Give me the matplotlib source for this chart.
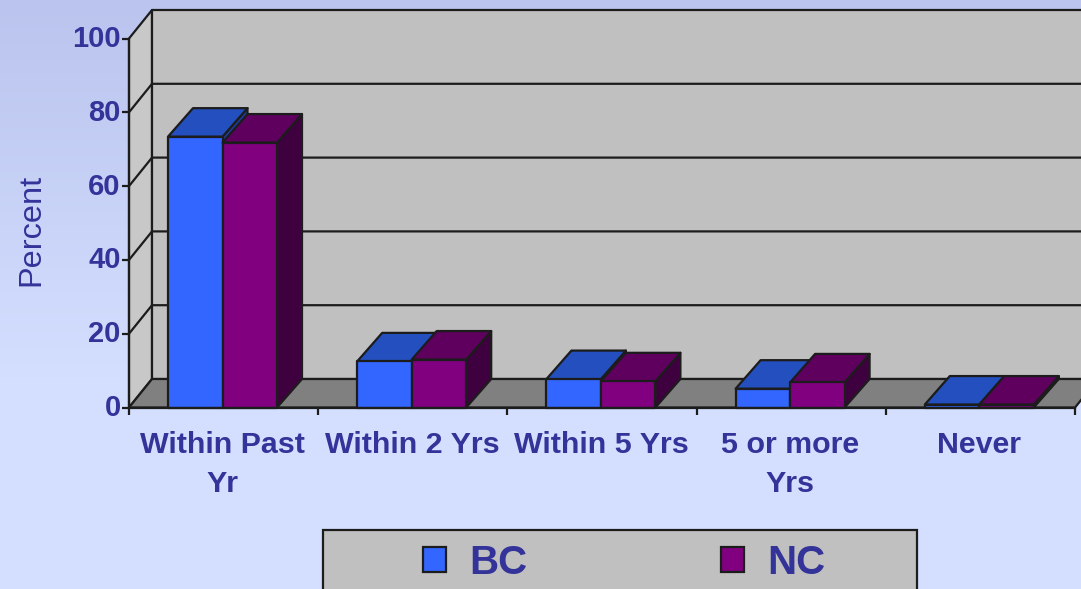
import numpy as np
import matplotlib
matplotlib.use("Agg")
import matplotlib.pyplot as plt
from matplotlib.patches import Polygon, Patch, Rectangle
from matplotlib.transforms import ScaledTranslation

plt.rcParams['font.family'] = ['Liberation Sans', 'DejaVu Sans']

categories = ["Within Past\nYr", "Within 2 Yrs", "Within 5 Yrs", "5 or more\nYrs", "Never"]
bc_values = [73.4, 12.5, 7.7, 5.1, 0.8]
nc_values = [71.8, 13.0, 7.1, 6.8, 0.8]
yticks = [0, 20, 40, 60, 80, 100]

W, H = 1081, 589
TEXT = "#333399"
EDGE = "#1c1c1c"
LW = 1.6

fig = plt.figure(figsize=(W/100, H/100), dpi=100)

# background gradient
bg = fig.add_axes([0, 0, 1, 1], zorder=0)
gy = np.linspace(0, 1, 120)[:, None]
t = np.clip(gy*1.55, 0, 1)
top = np.array([0xba, 0xc4, 0xee])/255
bot = np.array([0xd4, 0xdf, 0xff])/255
img = top + (bot-top)*t[..., None]
bg.imshow(img, extent=[0, 1, 0, 1], origin="upper", aspect="auto")
bg.axis("off")

# front plane of the chart
x0, x1, y0, y1 = 129, 1075, 407.5, 38.5
ax = fig.add_axes([x0/W, 1-y0/H, (x1-x0)/W, (y0-y1)/H], zorder=1)
ax.set_facecolor("none")
ax.set_xlim(0, 5)
ax.set_ylim(0, 100)

pxx = 5/(x1-x0)
pxy = 100/(y0-y1)
wall_dx = 23*pxx
bar_dx = 25*pxx
dy = 28.5*pxy

def poly(pts, fc, z):
    ax.add_patch(Polygon(pts, closed=True, fc=fc, ec=EDGE, lw=LW, clip_on=False, zorder=z, joinstyle="round"))

# walls and floor
poly([(0, 0), (wall_dx, dy), (wall_dx, 100+dy), (0, 100)], "#c8c8c8", 1)
poly([(wall_dx, dy), (5+wall_dx, dy), (5+wall_dx, 100+dy), (wall_dx, 100+dy)], "#c0c0c0", 1)
poly([(0, 0), (wall_dx, dy), (5+wall_dx, dy), (5, 0)], "#808080", 1)
for v in yticks[1:-1]:
    ax.plot([0, wall_dx, 5+wall_dx], [v, v+dy, v+dy], color=EDGE, lw=LW, clip_on=False, zorder=2)

def bar3d(left, width, val, front, topc, side, z):
    poly([(left+width, 0), (left+width+bar_dx, dy), (left+width+bar_dx, val+dy), (left+width, val)], side, z)
    poly([(left, val), (left+bar_dx, val+dy), (left+width+bar_dx, val+dy), (left+width, val)], topc, z)
    poly([(left, 0), (left+width, 0), (left+width, val), (left, val)], front, z)

off = 39*pxx
bw = 54.5*pxx
for i, (b, n) in enumerate(zip(bc_values, nc_values)):
    bar3d(i+off, bw, b, "#3366ff", "#2450bf", "#1f3f9f", 3+i*2)
    bar3d(i+off+bw, bw, n, "#800080", "#5f005f", "#3f003f", 4+i*2)

# axes
for s in ("top", "right"):
    ax.spines[s].set_visible(False)
for s in ("left", "bottom"):
    ax.spines[s].set_linewidth(LW)
    ax.spines[s].set_color(EDGE)
    ax.spines[s].set_zorder(20)
ax.set_yticks(yticks)
ax.set_yticklabels([str(v) for v in yticks], fontsize=21, fontweight="bold", color=TEXT)
ax.tick_params(axis="y", length=5, width=LW, color=EDGE, pad=1)
lift = ScaledTranslation(0, 2.5/100, fig.dpi_scale_trans)
for lab in ax.get_yticklabels():
    lab.set_transform(lab.get_transform() + lift)
ax.set_xticks(range(6))
ax.set_xticklabels([])
ax.tick_params(axis="x", which="major", length=5, width=LW, color=EDGE)
ax.set_xticks(np.arange(5)+0.495, minor=True)
ax.set_xticklabels(categories, minor=True, fontsize=21.9, fontweight="bold", color=TEXT, linespacing=1.49)
ax.tick_params(axis="x", which="minor", length=0, pad=17)

ax.set_ylabel("Percent", fontsize=23.4, color=TEXT, va="center")
ax.yaxis.set_label_coords((31-x0)/(x1-x0), (y0-230)/(y0-y1))

# legend box runs off the bottom of the figure
fig.add_artist(Rectangle((322.5/W, 1-(H+20)/H), 594/W, (H+20-529.5)/H, transform=fig.transFigure,
                         fc="#c0c0c0", ec=EDGE, lw=LW, zorder=2))
handles = [Patch(fc="#3366ff", ec=EDGE, lw=LW), Patch(fc="#800080", ec=EDGE, lw=LW)]
leg = fig.legend(handles, ["BC", "NC"], ncol=2, loc="center left", bbox_to_anchor=(423/W, 1-563/H),
                 frameon=False, borderpad=0, borderaxespad=0,
                 prop={"weight": "bold", "size": 29}, labelcolor=TEXT,
                 handlelength=0.57, handleheight=0.57, handletextpad=0.58, columnspacing=4.8)
leg.set_zorder(3)

fig.savefig("out.png", dpi=100)
